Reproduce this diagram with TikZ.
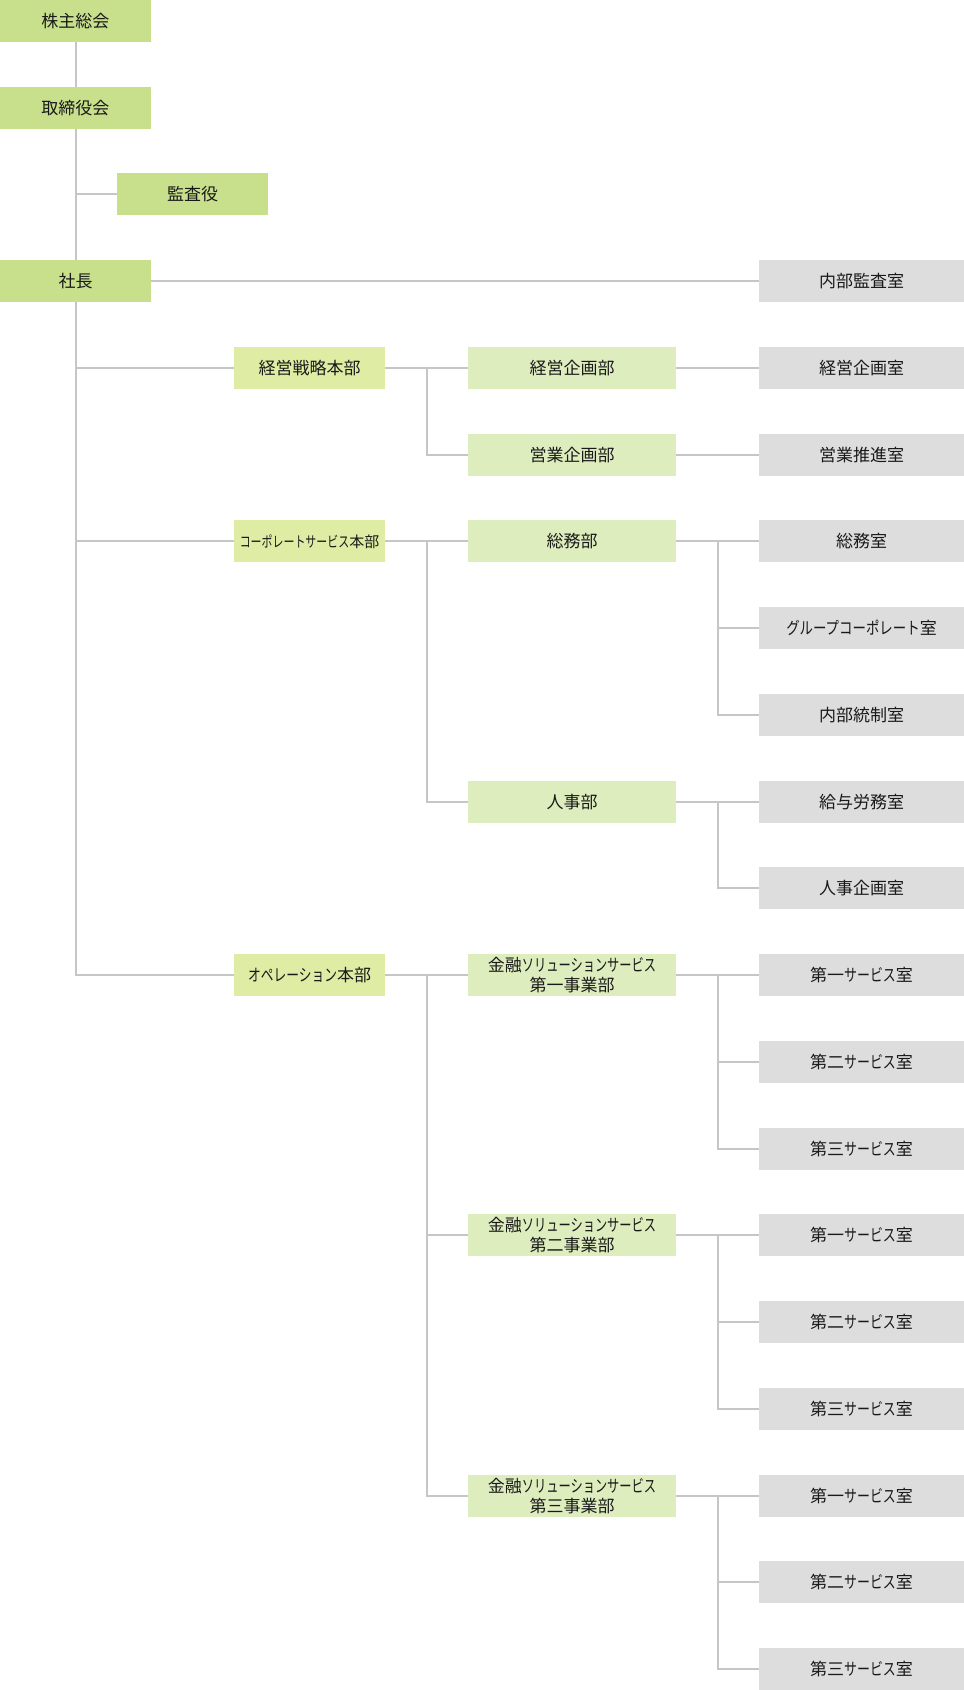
\documentclass[tikz,border=0pt]{standalone}
\usepackage{fontspec}
\usepackage{graphicx}
\setmainfont{Noto Sans CJK JP}
\newcommand\kn[2][0.76]{\scalebox{#1}[1]{#2}}
\definecolor{topg}{HTML}{C8E08C}
\definecolor{honbu}{HTML}{DEEDA3}
\definecolor{bu}{HTML}{DEEDBE}
\definecolor{shitsu}{HTML}{DDDDDD}
\definecolor{conn}{HTML}{C6C6C6}
\begin{document}
\begin{tikzpicture}[x=1pt,y=-1pt,
  box/.style={rectangle,inner sep=0pt,minimum height=42pt,align=center,
    font=\fontsize{17}{20}\selectfont,text=black!90},
  topbox/.style={box,fill=topg,minimum width=151pt},
  honbubox/.style={box,fill=honbu,minimum width=151pt},
  bubox/.style={box,fill=bu,minimum width=208pt},
  shitsubox/.style={box,fill=shitsu,minimum width=205pt},
  link/.style={draw=conn,line width=2pt}]
\useasboundingbox (0,0) rectangle (964,1690);
% coordinates of vertical rails
\coordinate (tx) at (76,0);
\coordinate (bx) at (427,0);
\coordinate (rx) at (718,0);
% top column
\node[topbox] (kabu) at (75.5,{21+86.74*0}) {株主総会};
\node[topbox] (tori) at (75.5,{21+86.74*1}) {取締役会};
\node[topbox] (kansa) at (192.5,{21+86.74*2}) {監査役};
\node[topbox] (shacho) at (75.5,{21+86.74*3}) {社長};
\node[shitsubox] (naibu) at (861.5,{21+86.74*3}) {内部監査室};
% honbu
\node[honbubox] (h1) at (309.5,{21+86.74*4}) {経営戦略本部};
\node[honbubox,font=\fontsize{15}{18}\selectfont] (h2) at (309.5,{21+86.74*6}) {\kn[0.73]{コーポレートサービス}本部};
\node[honbubox] (h3) at (309.5,{21+86.74*11}) {\kn[0.75]{オペレーション}本部};
% bu
\node[bubox] (b1) at (572,{21+86.74*4}) {経営企画部};
\node[bubox] (b2) at (572,{21+86.74*5}) {営業企画部};
\node[bubox] (b3) at (572,{21+86.74*6}) {総務部};
\node[bubox] (b4) at (572,{21+86.74*9}) {人事部};
\node[bubox] (b5) at (572,{21+86.74*11}) {金融\kn[0.72]{ソリューションサービス}\\第一事業部};
\node[bubox] (b6) at (572,{21+86.74*14}) {金融\kn[0.72]{ソリューションサービス}\\第二事業部};
\node[bubox] (b7) at (572,{21+86.74*17}) {金融\kn[0.72]{ソリューションサービス}\\第三事業部};
% shitsu
\node[shitsubox] (s4) at (861.5,{21+86.74*4}) {経営企画室};
\node[shitsubox] (s5) at (861.5,{21+86.74*5}) {営業推進室};
\node[shitsubox] (s6) at (861.5,{21+86.74*6}) {総務室};
\node[shitsubox] (s7) at (861.5,{21+86.74*7}) {\kn[0.79]{グループコーポレート}室};
\node[shitsubox] (s8) at (861.5,{21+86.74*8}) {内部統制室};
\node[shitsubox] (s9) at (861.5,{21+86.74*9}) {給与労務室};
\node[shitsubox] (s10) at (861.5,{21+86.74*10}) {人事企画室};
\node[shitsubox] (s11) at (861.5,{21+86.74*11}) {第一\kn{サービス}室};
\node[shitsubox] (s12) at (861.5,{21+86.74*12}) {第二\kn{サービス}室};
\node[shitsubox] (s13) at (861.5,{21+86.74*13}) {第三\kn{サービス}室};
\node[shitsubox] (s14) at (861.5,{21+86.74*14}) {第一\kn{サービス}室};
\node[shitsubox] (s15) at (861.5,{21+86.74*15}) {第二\kn{サービス}室};
\node[shitsubox] (s16) at (861.5,{21+86.74*16}) {第三\kn{サービス}室};
\node[shitsubox] (s17) at (861.5,{21+86.74*17}) {第一\kn{サービス}室};
\node[shitsubox] (s18) at (861.5,{21+86.74*18}) {第二\kn{サービス}室};
\node[shitsubox] (s19) at (861.5,{21+86.74*19}) {第三\kn{サービス}室};
% connectors
\path[link] (kabu.south -| tx) -- (tori.north -| tx);
\path[link] (tori.south -| tx) -- (shacho.north -| tx);
\path[link] (kansa.west -| tx) -- (kansa.west);
\path[link] (shacho.east) -- (naibu.west);
\path[link] (shacho.south -| tx) |- (h3.west);
\path[link] (h1.west -| tx) -- (h1.west);
\path[link] (h2.west -| tx) -- (h2.west);
% honbu to bu
\path[link] (h1.east) -- (b1.west);
\path[link] (b1.west -| bx) |- (b2.west);
\path[link] (h2.east) -- (b3.west);
\path[link] (b3.west -| bx) |- (b4.west);
\path[link] (h3.east) -- (b5.west);
\path[link] (b5.west -| bx) |- (b7.west);
\path[link] (b6.west -| bx) -- (b6.west);
% bu to shitsu
\path[link] (b1.east) -- (s4.west);
\path[link] (b2.east) -- (s5.west);
\path[link] (b3.east) -- (s6.west);
\path[link] (s6.west -| rx) |- (s8.west);
\path[link] (s7.west -| rx) -- (s7.west);
\path[link] (b4.east) -- (s9.west);
\path[link] (s9.west -| rx) |- (s10.west);
\path[link] (b5.east) -- (s11.west);
\path[link] (s11.west -| rx) |- (s13.west);
\path[link] (s12.west -| rx) -- (s12.west);
\path[link] (b6.east) -- (s14.west);
\path[link] (s14.west -| rx) |- (s16.west);
\path[link] (s15.west -| rx) -- (s15.west);
\path[link] (b7.east) -- (s17.west);
\path[link] (s17.west -| rx) |- (s19.west);
\path[link] (s18.west -| rx) -- (s18.west);
\end{tikzpicture}
\end{document}
